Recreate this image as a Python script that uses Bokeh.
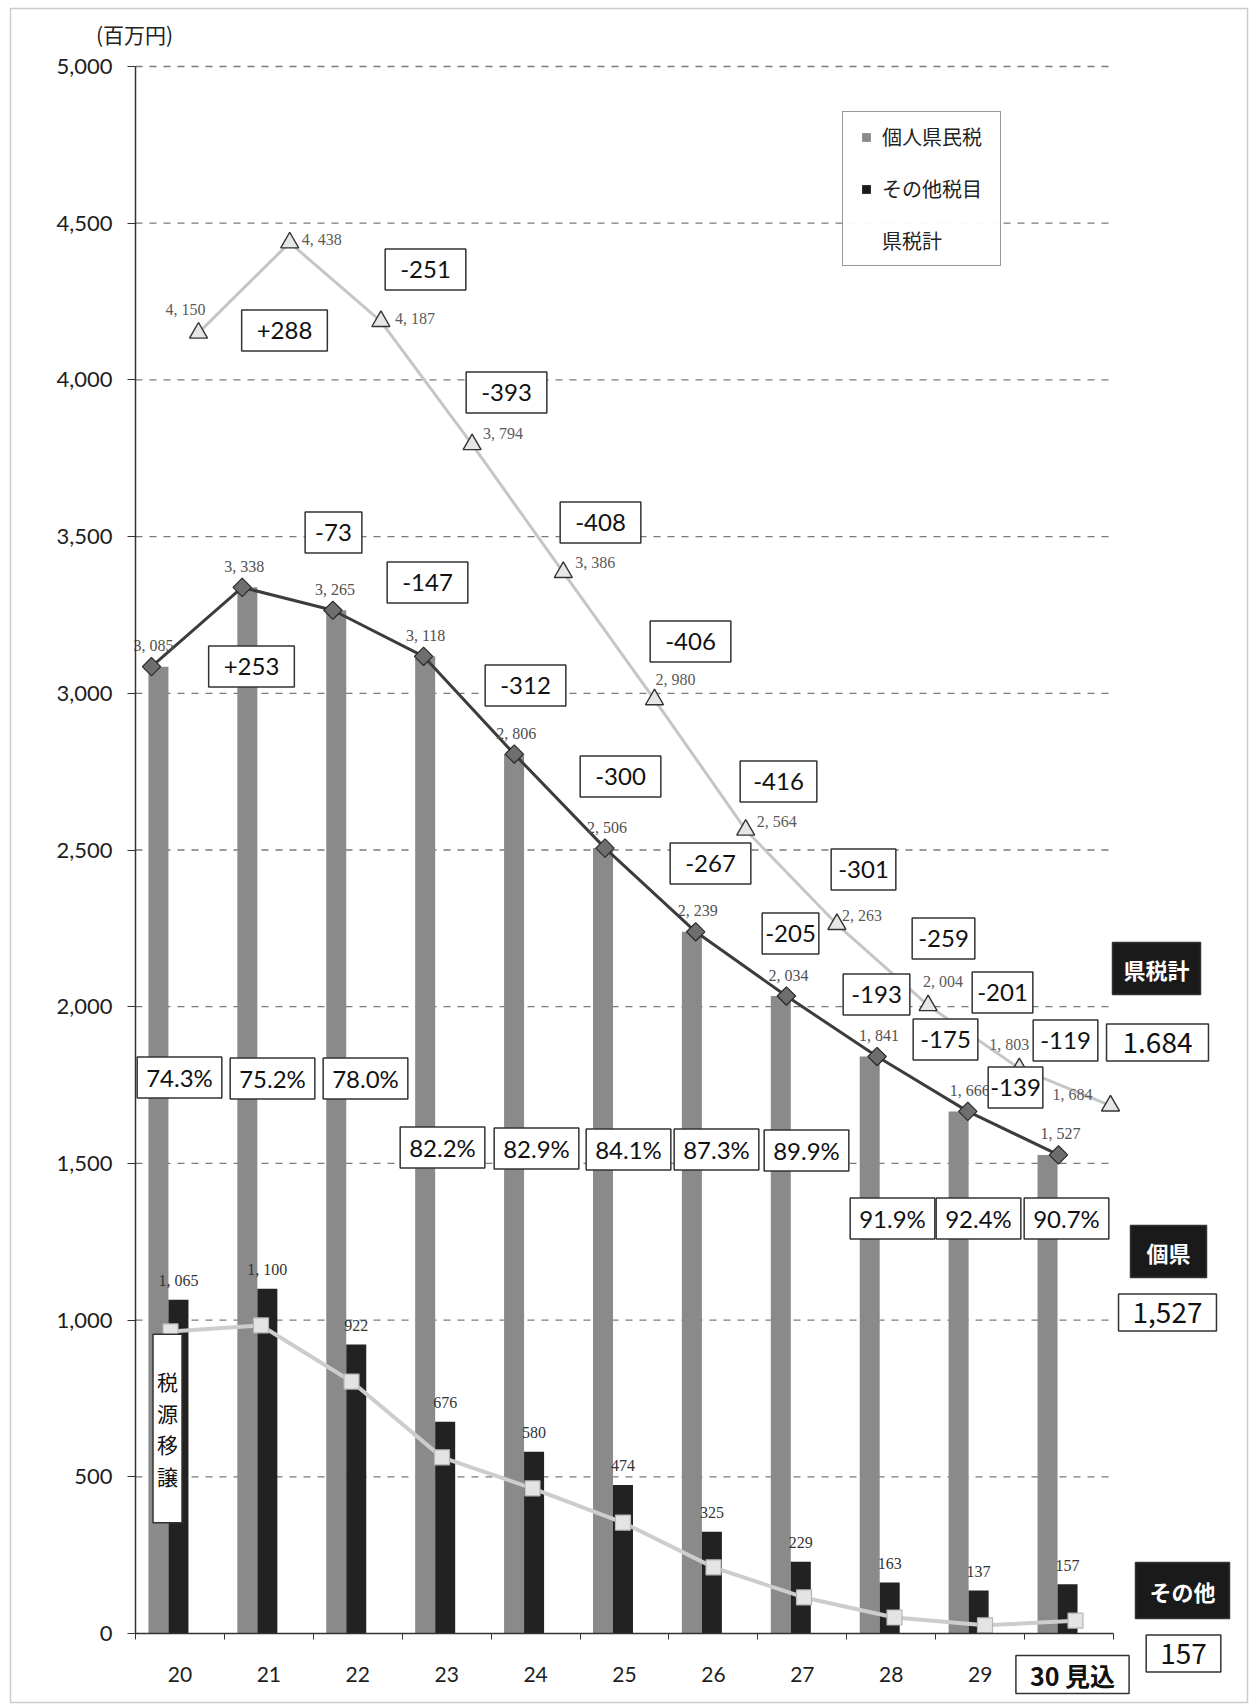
from bokeh.plotting import figure
from bokeh.models import (Range1d, FixedTicker, NumeralTickFormatter, Label, Legend,
                          LegendItem, ColumnDataSource, BoxAnnotation, LinearAxis)
from bokeh.transform import dodge
from bokeh.core.properties import value
from bokeh.embed import file_html
from bokeh.resources import INLINE

# ---------------- data ----------------
years = ["20", "21", "22", "23", "24", "25", "26", "27", "28", "29", "30 見込"]
individual = [3085, 3338, 3265, 3118, 2806, 2506, 2239, 2034, 1841, 1666, 1527]   # 個人県民税
other = [1065, 1100, 922, 676, 580, 474, 325, 229, 163, 137, 157]                # その他税目
total = [4150, 4438, 4187, 3794, 3386, 2980, 2564, 2263, 2004, 1803, 1684]       # 県税計
other_trend = [964, 983, 804, 562, 463, 354, 211, 115, 51, 26, 41]               # light line (no legend)
y_ticks = [0, 500, 1000, 1500, 2000, 2500, 3000, 3500, 4000, 4500, 5000]

total_diff = [total[i] - total[i - 1] for i in range(1, len(total))]
indiv_diff = [individual[i] - individual[i - 1] for i in range(1, len(individual))]
share = [100.0 * a / b for a, b in zip(individual, total)]

# ---------------- layout (canvas pixel geometry) ----------------
W, H = 1251, 1704
AX_LEFT, AX_RIGHT, AX_TOP, AX_BOTTOM = 135, 1113, 66, 1633
NCAT = len(years)
STEP = (AX_RIGHT - AX_LEFT) / NCAT
YSCALE = (AX_BOTTOM - AX_TOP) / 5000.0


def X(px):
    return (px - AX_LEFT) / STEP


def Y(py):
    return (AX_BOTTOM - py) / YSCALE


def series_range(first_px, spacing):
    return Range1d(0.5 - first_px / spacing, 0.5 + (W - first_px) / spacing)


pos = [i + 0.5 for i in range(NCAT)]
total_diff_px = [(284, 330), (425, 269), (506, 392), (600, 522), (690, 641),
                 (778, 781), (863, 869), (943, 938), (1002, 992), (1065, 1040)]
total_diff_pad = [15, 15, 15, 15, 15, 13, 7, 6, 5, 7]
indiv_diff_px = [(251, 666), (333, 532), (427, 582), (525, 685), (620, 776),
                 (710, 863), (790, 933), (876, 994), (945, 1039), (1015, 1087)]
indiv_diff_pad = [15, 10, 15, 15, 15, 15, 3, 8, 7, 2]
share_px = [(179, 1077), (272, 1078), (365, 1078), (442, 1147), (536, 1148), (628, 1149),
            (716, 1149), (806, 1150), (892, 1218), (978, 1218), (1066, 1218)]
tri_lab_dx = [7, 12, 14, 11, 12, 1, 11, 5, 15, -10, -18]
tri_lab_dy = [-23, -3, -3, -11, -10, -20, -8, -9, -24, -24, -11]
tri_lab_al = ["right", "left", "left", "left", "left", "left", "left", "left", "center", "center", "right"]

FONT = "Lato"
JP = "Noto Sans CJK JP"
SERIF = "Liberation Serif"


def fmt(v):
    return f"{v:,}".replace(",", ", ")


p = figure(width=W, height=H, x_range=Range1d(X(0), X(W)), y_range=Range1d(Y(H), Y(0)),
           output_backend="svg", toolbar_location=None, title=None,
           x_axis_type=None, y_axis_type=None, min_border=0)
p.extra_x_ranges = {"total": series_range(198, 91.2),
                    "indiv": series_range(151, 90.7),
                    "trend": series_range(170, 90.5)}
p.outline_line_color = None
p.background_fill_color = "white"
p.border_fill_color = "white"
p.xgrid.visible = False
p.ygrid.visible = False

# dashed horizontal grid lines between the axis and the plot's right edge
p.segment(x0=0, x1=NCAT, y0=y_ticks[1:], y1=y_ticks[1:], line_color="#7a7a7a",
          line_width=1.3, line_dash="7 7")

# axes
yax = LinearAxis(fixed_location=0, bounds=(0, 5000), ticker=FixedTicker(ticks=y_ticks),
                 formatter=NumeralTickFormatter(format="0,0"))
yax.major_label_text_font = FONT
yax.major_label_text_font_size = "22px"
yax.major_label_text_color = "#1e1e1e"
yax.major_tick_out = 8
yax.major_tick_in = 0
yax.minor_tick_line_color = None
yax.major_label_standoff = 15
yax.axis_line_color = "#333333"
yax.axis_line_width = 1.5
yax.major_tick_line_color = "#333333"
p.add_layout(yax, "left")

xax = LinearAxis(fixed_location=0, bounds=(0, NCAT),
                 ticker=FixedTicker(ticks=pos, minor_ticks=list(range(0, NCAT + 1))))
xax.major_label_overrides = {pos[i]: (years[i] if i < NCAT - 1 else "") for i in range(NCAT)}
xax.major_tick_line_color = None
xax.minor_tick_out = 6
xax.minor_tick_in = 0
xax.minor_tick_line_color = "#333333"
xax.axis_line_color = "#333333"
xax.axis_line_width = 1.5
xax.major_label_text_font = FONT
xax.major_label_text_font_size = "21px"
xax.major_label_text_color = "#1e1e1e"
xax.major_label_standoff = 27
p.add_layout(xax, "below")

# bars
src = ColumnDataSource(dict(x=pos, individual=individual, other=other))
gray_bar = p.vbar(x=dodge("x", -0.242, range=p.x_range), top="individual", width=0.225, source=src,
                  fill_color="#8a8a8a", line_color=None)
black_bar = p.vbar(x=dodge("x", -0.017, range=p.x_range), top="other", width=0.225, source=src,
                   fill_color="#222222", line_color=None)

# light trend line
p.line(pos, other_trend, x_range_name="trend", line_color="#cdcdcd", line_width=4)
p.scatter(pos, other_trend, x_range_name="trend", marker="square", size=15,
          fill_color="#e4e4e4", line_color="#b5b5b5", line_width=1.2)

# total line (triangles)
p.line(pos, total, x_range_name="total", line_color="#c6c6c6", line_width=3)
p.scatter(pos, total, x_range_name="total", marker="triangle", size=18,
          fill_color="#e6e6e6", line_color="#333333", line_width=1.4)

# individual line (diamonds)
p.line(pos, individual, x_range_name="indiv", line_color="#3c3c3c", line_width=3)
p.scatter(pos, individual, x_range_name="indiv", marker="square", angle=0.785, size=13,
          fill_color="#6e6e6e", line_color="#2a2a2a", line_width=1.2)

# value labels
tri_src = ColumnDataSource(dict(x=pos, y=total, t=[fmt(v) for v in total],
                                dx=tri_lab_dx, dy=tri_lab_dy, al=tri_lab_al))
p.text(x="x", y="y", text="t", x_offset="dx", y_offset="dy", text_align="al", source=tri_src,
       x_range_name="total", text_baseline="middle", text_font=value(SERIF),
       text_font_size="16px", text_color="#5a5a5a")
p.text(x=pos, y=individual, text=[fmt(v) for v in individual], x_range_name="indiv",
       x_offset=2, y_offset=-21, text_align="center", text_baseline="middle",
       text_font=value(SERIF), text_font_size="16px", text_color="#505050")
p.text(x=dodge("x", -0.017, range=p.x_range), y="other", text="t",
       source=ColumnDataSource(dict(x=pos, other=other, t=[fmt(v) for v in other])),
       y_offset=-19, text_align="center", text_baseline="middle",
       text_font=value(SERIF), text_font_size="16px", text_color="#333333")

# legend: hidden proxy renderers give small square icons
leg_gray = p.scatter(x=pos[:1], y=individual[:1], marker="square", size=9,
                     fill_color="#8a8a8a", line_color=None, visible=False)
leg_black = p.scatter(x=pos[:1], y=other[:1], marker="square", size=9,
                      fill_color="#1a1a1a", line_color=None, visible=False)
leg_none = p.scatter(x=pos[:1], y=total[:1], marker="square", size=9,
                     fill_alpha=0, line_alpha=0, visible=False)
legend = Legend(items=[LegendItem(label="個人県民税", renderers=[leg_gray]),
                       LegendItem(label="その他税目", renderers=[leg_black]),
                       LegendItem(label="県税計", renderers=[leg_none])],
                location=(842, H - 266), margin=0, padding=10, spacing=23,
                glyph_width=26, glyph_height=22, label_standoff=3, label_width=108,
                label_text_font=JP, label_text_font_size="20px", label_text_color="#222222",
                inactive_fill_alpha=0, click_policy="none",
                border_line_color="#333333", border_line_width=1.5, background_fill_color="white")
p.add_layout(legend, "center")


def box(px, py, text, size, font=FONT, bg="white", color="#111111", pv=6, ph=15,
        style="normal", lw=1.5, line_height=1.2):
    p.add_layout(Label(x=X(px), y=Y(py), text=text, text_align="center", text_baseline="middle",
                       text_font=font, text_font_size=f"{size}px", text_color=color,
                       text_font_style=style, text_line_height=line_height,
                       background_fill_color=bg, border_line_color="#333333",
                       border_line_width=lw,
                       padding=dict(top=pv, bottom=pv, left=ph, right=ph)))


for (px, py), d, ph in zip(total_diff_px, total_diff, total_diff_pad):
    box(px, py, f"{d:+d}", 24, pv=12, ph=ph)
for (px, py), d, ph in zip(indiv_diff_px, indiv_diff, indiv_diff_pad):
    box(px, py, f"{d:+d}", 24, pv=12, ph=ph)
for (px, py), s in zip(share_px, share):
    box(px, py, f"{s:.1f}%", 24, pv=6, ph=9)

# right side tags
box(1156, 968, "県税計", 22, font=JP, bg="#1a1a1a", color="white", pv=10, ph=11, style="bold")
box(1157, 1042, fmt(total[-1]).replace(", ", "."), 28, font=JP, pv=8, ph=16)
box(1168, 1251, "個県", 22, font=JP, bg="#1a1a1a", color="white", pv=10, ph=16, style="bold")
box(1167, 1312, f"{individual[-1]:,}", 28, font=JP, pv=8, ph=14)
box(1182, 1590, "その他", 22, font=JP, bg="#1a1a1a", color="white", pv=12, ph=14, style="bold")
box(1183, 1653, f"{other[-1]}", 28, font=JP, pv=8, ph=14)
box(1072, 1674, years[-1], 25, font=JP, pv=1, ph=14, style="bold")
box(167, 1428, "税\n源\n移\n譲", 21, font=JP, pv=32, ph=4, line_height=1.05)

p.add_layout(Label(x=X(134), y=Y(33), text="(百万円)", text_align="center", text_baseline="middle",
                   text_font=JP, text_font_size="21px", text_color="#222222"))

# outer frame of the picture
p.add_layout(BoxAnnotation(left=X(10), right=X(1247), top=Y(8), bottom=Y(1702),
                           fill_alpha=0, line_color="#555555", line_width=1.5))

open("out.html", "w").write(file_html(p, INLINE))
